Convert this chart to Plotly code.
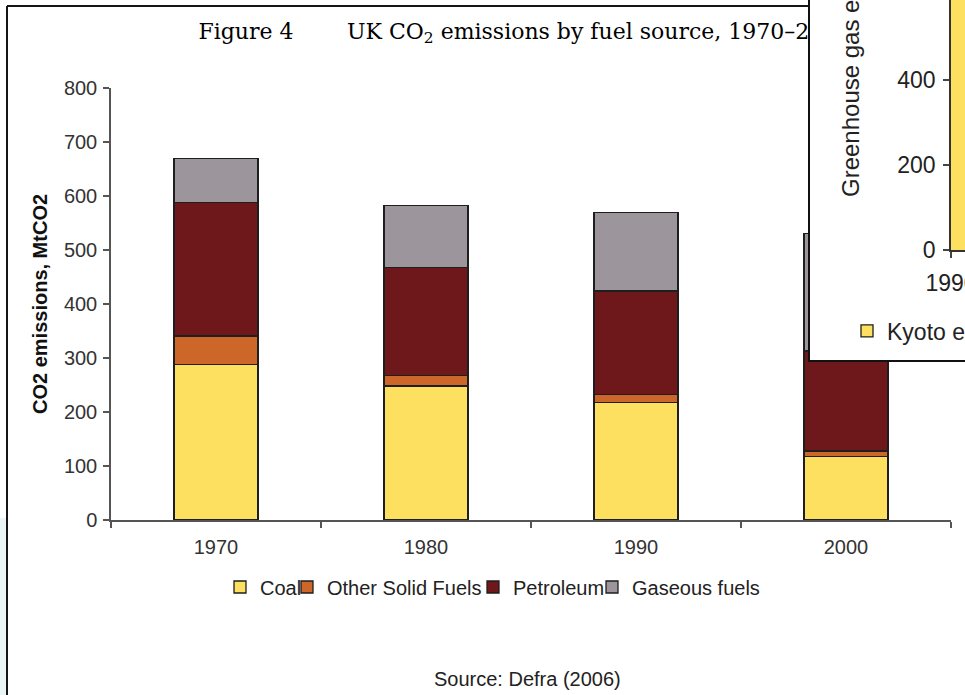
import plotly.graph_objects as go

# UK CO2 emissions by fuel source (MtCO2)
years = ["1970", "1980", "1990", "2000"]
coal = [288, 248, 217, 117]
other_solid = [53, 19, 16, 11]
petroleum = [247, 201, 191, 185]
gaseous = [81, 114, 146, 218]

# Overlapping panel: greenhouse gas emissions (MtCO2e)
kyoto_years = [1990, 1991, 1992]
kyoto = [776, 783, 763]
kyoto_ticks = [0, 200, 400]

W, H = 965, 695


def px(x):
    return x / W


def py(y):
    return (H - y) / H


SANS = "Liberation Sans, Arial, sans-serif"
SERIF = "DejaVu Serif, serif"
OUTLINE = "#1e1e1e"
FS = 20

fig = go.Figure()

series = [
    ("Coal", coal, "#FDE05F", "legend"),
    ("Other Solid Fuels", other_solid, "#CC6629", "legend2"),
    ("Petroleum", petroleum, "#6E181C", "legend3"),
    ("Gaseous fuels", gaseous, "#9C969C", "legend4"),
]
for name, vals, col, lg in series:
    fig.add_trace(go.Bar(
        x=years, y=vals, name=name, width=0.4,
        marker=dict(color=col, line=dict(color=OUTLINE, width=1.3)),
        legend=lg, xaxis="x", yaxis="y", hoverinfo="x+y+name",
    ))

# Heading line drawn in its own strip so the overlapping panel can cover it
fig.add_trace(go.Scatter(
    x=[246, 347], y=[0.5, 0.5], mode="text",
    text=["Figure 4", "UK CO<sub>2</sub> emissions by fuel source, 1970\u20132004"],
    textposition=["middle center", "middle right"],
    textfont=dict(family=SERIF, size=22, color="#000"),
    showlegend=False, hoverinfo="skip", xaxis="x2", yaxis="y2",
))

# Empty subplot whose white background forms the overlapping panel
fig.add_trace(go.Scatter(x=[0], y=[0], mode="none", showlegend=False,
                         hoverinfo="skip", xaxis="x3", yaxis="y3"))

# Panel series
fig.add_trace(go.Scatter(
    x=kyoto_years, y=kyoto, mode="lines", fill="tozeroy",
    fillcolor="#FDE05F", line=dict(color=OUTLINE, width=1.3),
    showlegend=False, xaxis="x4", yaxis="y4", name="Kyoto emissions",
))
fig.add_trace(go.Bar(
    x=[None], y=[None], name="Kyoto emissions",
    marker=dict(color="#FDE05F", line=dict(color=OUTLINE, width=1.3)),
    legend="legend5", xaxis="x4", yaxis="y4",
))

axis_common = dict(showgrid=False, zeroline=False, showline=True,
                   linecolor="#555", linewidth=1.5, ticks="outside",
                   ticklen=6, tickwidth=1.5, tickcolor="#555",
                   automargin=False, tickfont=dict(size=FS, color="#333"))
panel_axis = dict(showgrid=False, zeroline=False, showline=True,
                  linecolor="#333", linewidth=1.5, ticks="outside",
                  ticklen=6, tickwidth=1.5, tickcolor="#444",
                  automargin=False, tickmode="array",
                  ticklabeloverflow="allow",
                  tickfont=dict(size=23, color="#222"))
hidden = dict(visible=False, automargin=False)

fig.update_layout(
    template="none",
    width=W, height=H,
    margin=dict(l=0, r=0, t=0, b=0, pad=0, autoexpand=False),
    paper_bgcolor="white", plot_bgcolor="white",
    barmode="stack", bargap=0.6,
    font=dict(family=SANS, size=FS, color="#333"),
    xaxis=dict(domain=[px(111), px(951)], type="category",
               categoryorder="array", categoryarray=years,
               range=[-0.5, 3.5], tickson="boundaries", anchor="y",
               ticklabelstandoff=8, **axis_common),
    yaxis=dict(domain=[py(520), py(88)], range=[0, 800], dtick=100,
               anchor="x", ticklabelstandoff=2, **axis_common),
    xaxis2=dict(domain=[0, 1], range=[0, W], anchor="y2", **hidden),
    yaxis2=dict(domain=[py(60), py(6)], range=[0, 1], anchor="x2",
                **hidden),
    xaxis3=dict(domain=[px(809), 1], range=[0, 1], anchor="y3", **hidden),
    yaxis3=dict(domain=[py(361), 1], range=[0, 1], anchor="x3", **hidden),
    xaxis4=dict(domain=[px(951), 1], range=[1990, 1991], anchor="y4",
                tickvals=[1990], ticktext=["1990"], ticklabelstandoff=6,
                **panel_axis),
    yaxis4=dict(domain=[py(250), 1], range=[0, 250 / 0.425], anchor="x4",
                tickvals=kyoto_ticks, ticklabelstandoff=3, **panel_axis),
    showlegend=True,
)

legend_style = dict(orientation="h", xanchor="left", yanchor="middle",
                    bgcolor="rgba(0,0,0,0)", borderwidth=0,
                    font=dict(family=SANS, size=FS, color="#222"))
for key, left in [("legend", 220), ("legend2", 287),
                  ("legend3", 473), ("legend4", 592)]:
    fig.update_layout({key: dict(x=px(left), y=py(587), **legend_style)})
fig.update_layout(legend5=dict(
    x=px(847), y=py(331), orientation="h", xanchor="left",
    yanchor="middle", bgcolor="rgba(0,0,0,0)", borderwidth=0,
    font=dict(family=SANS, size=23, color="#222")))

# Page frame and margin tint
fig.add_shape(type="rect", xref="paper", yref="paper", x0=0, x1=px(6),
              y0=0, y1=py(518), fillcolor="#EAF6F6", line_width=0,
              layer="below")
fig.add_shape(type="line", xref="paper", yref="paper", x0=px(7), x1=1,
              y0=py(6), y1=py(6), line=dict(color="#151515", width=2),
              layer="below")
fig.add_shape(type="line", xref="paper", yref="paper", x0=px(7), x1=px(7),
              y0=py(6), y1=0, line=dict(color="#151515", width=2),
              layer="below")
# Border of the overlapping panel
fig.add_shape(type="rect", xref="paper", yref="paper", x0=px(809),
              x1=px(990), y0=py(361), y1=py(-20),
              line=dict(color="#111", width=2), fillcolor="rgba(0,0,0,0)",
              layer="above")

fig.add_annotation(text="<b>CO2 emissions, MtCO2</b>", textangle=-90,
                   xref="paper", yref="paper", x=px(40), y=py(304),
                   xanchor="center", yanchor="middle",
                   showarrow=False, font=dict(family=SANS, size=FS,
                                              color="#111"))
fig.add_annotation(text="Source: Defra (2006)", xref="paper", yref="paper",
                   x=px(527), y=py(679), xanchor="center", yanchor="middle",
                   showarrow=False,
                   font=dict(family=SANS, size=FS, color="#222"))
fig.add_annotation(text="Greenhouse gas emissions, MtCO2e", textangle=-90,
                   xref="paper", yref="paper", x=px(851), y=py(199),
                   xanchor="center", yanchor="bottom", showarrow=False,
                   font=dict(family=SANS, size=24, color="#222"))
fig.add_annotation(text="600", xref="paper", yref="paper", x=px(932),
                   y=py(-8), xanchor="right", yanchor="middle",
                   showarrow=False, font=dict(family=SANS, size=23,
                                              color="#222"))

fig.write_html("out.html")
